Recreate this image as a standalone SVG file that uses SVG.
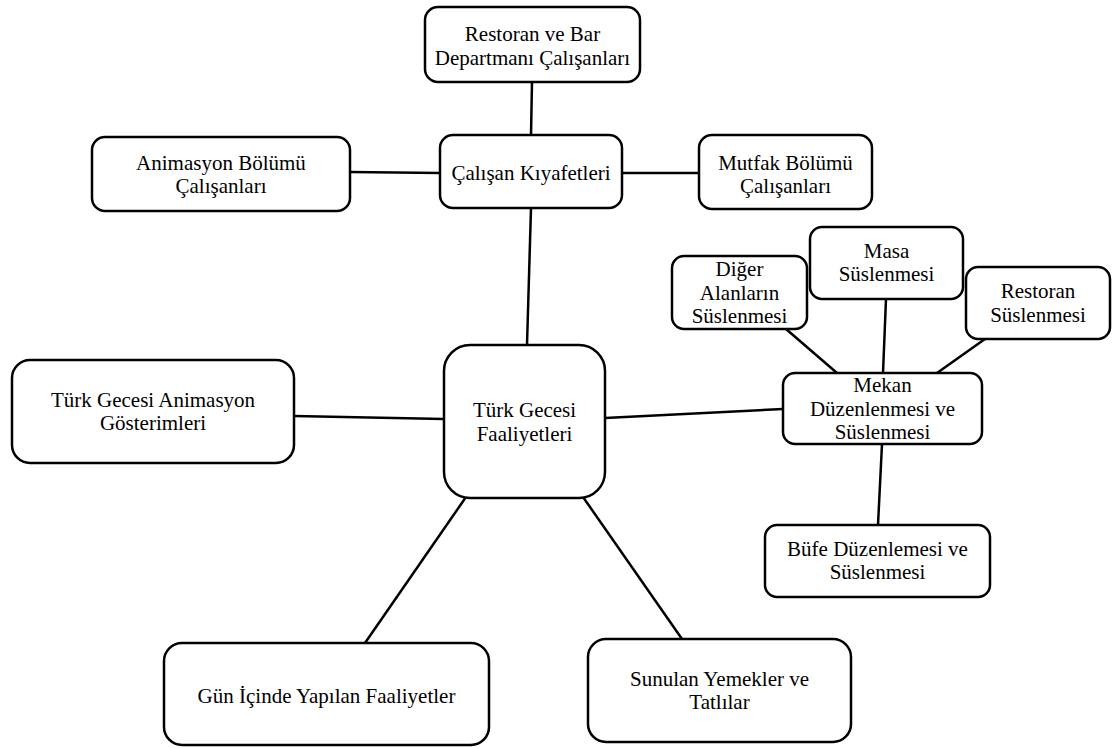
<svg xmlns="http://www.w3.org/2000/svg" width="1112" height="748" viewBox="0 0 1112 748">
<style>
.n{fill:#fff;stroke:#000;stroke-width:2.5}
.t{font-family:"Liberation Serif","Times New Roman",serif;font-size:21px;fill:#000;text-anchor:middle}
.c line{stroke:#000;stroke-width:2.5}
</style>
<rect width="1112" height="748" fill="#fff"/>
<g class="c" id="connectors">
<line x1="532" y1="82" x2="531" y2="135"/>
<line x1="350" y1="172" x2="440" y2="173"/>
<line x1="622" y1="173" x2="699" y2="173"/>
<line x1="531" y1="208" x2="527" y2="345"/>
<line x1="294" y1="416" x2="444" y2="419"/>
<line x1="605" y1="418" x2="783" y2="409"/>
<line x1="786" y1="329" x2="837" y2="373"/>
<line x1="886" y1="299" x2="883" y2="373"/>
<line x1="985" y1="339" x2="937" y2="373"/>
<line x1="882" y1="444" x2="878" y2="525"/>
<line x1="466" y1="497" x2="365" y2="643"/>
<line x1="583" y1="497" x2="682" y2="639"/>
</g>
<g id="n-restoran-bar"><rect class="n" x="425" y="7" width="215" height="75" rx="13"/><text class="t" x="532.5" y="41.3">Restoran ve Bar</text><text class="t" x="532.5" y="64.6">Departmanı Çalışanları</text></g>
<g id="n-calisan"><rect class="n" x="440" y="135" width="182" height="73" rx="13"/><text class="t" x="531" y="180">Çalışan Kıyafetleri</text></g>
<g id="n-animasyon-bolumu"><rect class="n" x="92" y="137" width="258" height="74" rx="13"/><text class="t" x="221" y="169.8">Animasyon Bölümü</text><text class="t" x="221" y="193.2">Çalışanları</text></g>
<g id="n-mutfak"><rect class="n" x="699" y="135" width="173" height="74" rx="13"/><text class="t" x="785.5" y="169.8">Mutfak Bölümü</text><text class="t" x="785.5" y="193.2">Çalışanları</text></g>
<g id="n-diger"><rect class="n" x="672" y="256" width="135" height="73" rx="12"/><text class="t" x="739.5" y="276.2">Diğer</text><text class="t" x="739.5" y="299.5">Alanların</text><text class="t" x="739.5" y="322.8">Süslenmesi</text></g>
<g id="n-masa"><rect class="n" x="810" y="227" width="153" height="72" rx="12"/><text class="t" x="886.5" y="257.8">Masa</text><text class="t" x="886.5" y="281.2">Süslenmesi</text></g>
<g id="n-restoran-sus"><rect class="n" x="966" y="267" width="144" height="72" rx="12"/><text class="t" x="1038" y="298.3">Restoran</text><text class="t" x="1038" y="321.7">Süslenmesi</text></g>
<g id="n-mekan"><rect class="n" x="783" y="373" width="199" height="71" rx="12"/><text class="t" x="882.5" y="392.2">Mekan</text><text class="t" x="882.5" y="415.5">Düzenlenmesi ve</text><text class="t" x="882.5" y="438.8">Süslenmesi</text></g>
<g id="n-bufe"><rect class="n" x="765" y="525" width="225" height="72" rx="12"/><text class="t" x="877.5" y="555.8">Büfe Düzenlemesi ve</text><text class="t" x="877.5" y="579.2">Süslenmesi</text></g>
<g id="n-turk-animasyon"><rect class="n" x="12" y="360" width="282" height="103" rx="18"/><text class="t" x="153" y="406.8">Türk Gecesi Animasyon</text><text class="t" x="153" y="430.2">Gösterimleri</text></g>
<g id="n-central"><rect class="n" x="444" y="345" width="161" height="153" rx="26"/><text class="t" x="524.5" y="417.3">Türk Gecesi</text><text class="t" x="524.5" y="440.7">Faaliyetleri</text></g>
<g id="n-gun"><rect class="n" x="164" y="643" width="325" height="102" rx="18"/><text class="t" x="326.5" y="703">Gün İçinde Yapılan Faaliyetler</text></g>
<g id="n-sunulan"><rect class="n" x="588" y="639" width="263" height="103" rx="18"/><text class="t" x="719.5" y="685.8">Sunulan Yemekler ve</text><text class="t" x="719.5" y="709.2">Tatlılar</text></g>
</svg>
